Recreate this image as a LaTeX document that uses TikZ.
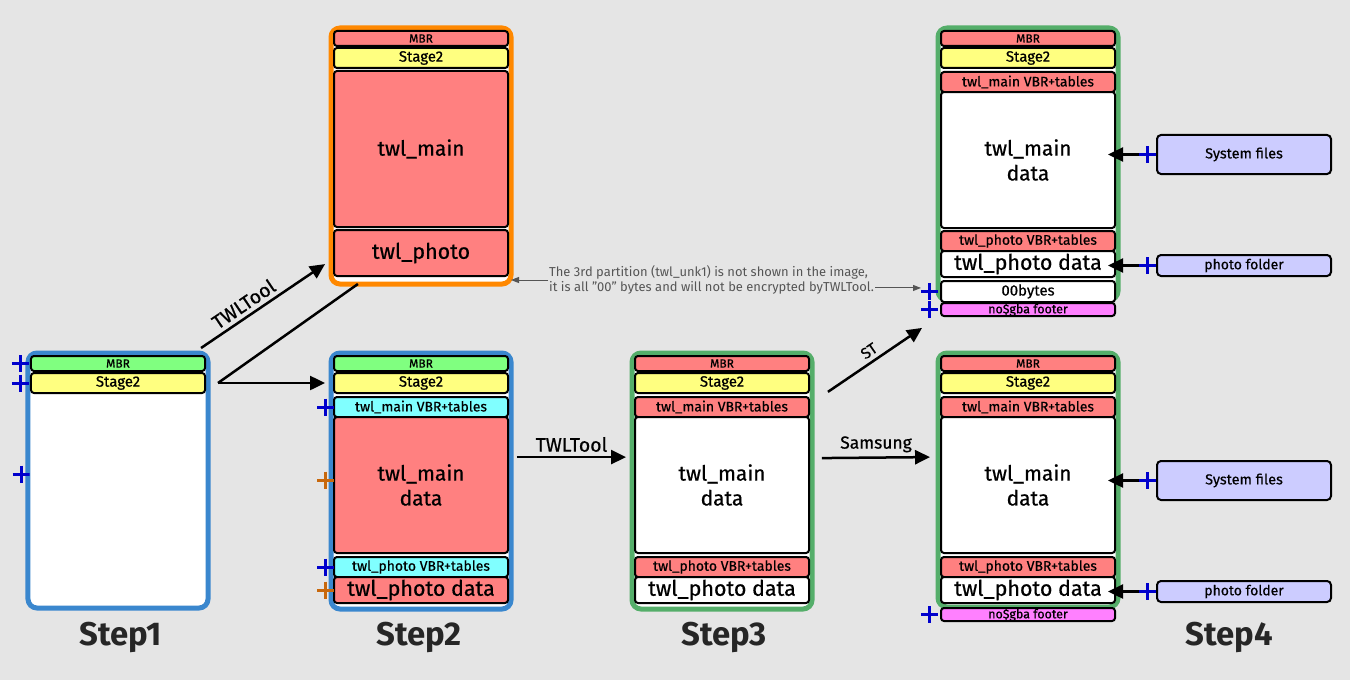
\documentclass[tikz,border=0pt]{standalone}
\usepackage{fontspec}
\setmainfont{Fira Sans}
\newfontfamily\medfont{Fira Sans}[FakeBold=0.6]
\usetikzlibrary{arrows.meta, positioning, calc}
\definecolor{twBg}{HTML}{E5E5E5}
\definecolor{twBlue}{HTML}{3A87CE}
\definecolor{twOrange}{HTML}{FF8800}
\definecolor{twGreenEdge}{HTML}{55AE6A}
\definecolor{twRed}{HTML}{FF8080}
\definecolor{twGreen}{HTML}{80FF80}
\definecolor{twYellow}{HTML}{FFFF80}
\definecolor{twCyan}{HTML}{80FFFF}
\definecolor{twPink}{HTML}{FF80FF}
\definecolor{twLav}{HTML}{CCCCFF}
\definecolor{twPlus}{HTML}{0000CC}
\definecolor{twBrown}{HTML}{C8680C}
\definecolor{twGray}{HTML}{555555}
\tikzset{
  disk/.style={line width=5bp, rounded corners=9bp, fill=white, minimum width=180bp,
    inner sep=0pt, outer sep=0pt, anchor=north},
  part/.style={draw, line width=2bp, rounded corners=3bp, minimum width=174bp,
    inner sep=0pt, outer sep=0pt, anchor=north, align=center},
  mbrbar/.style={part, minimum height=15bp, font=\medfont\fontsize{12}{13}\selectfont},
  stagebar/.style={part, fill=twYellow, minimum height=20bp, font=\medfont\fontsize{15}{17}\selectfont},
  vbrbar/.style={part, minimum height=20bp, font=\medfont\fontsize{14}{15}\selectfont},
  databar/.style={part, minimum height=136bp, font=\medfont\fontsize{21}{25}\selectfont},
  photobar/.style={part, minimum height=26bp, font=\medfont\fontsize{21.5}{23}\selectfont},
  zerobar/.style={part, fill=white, minimum height=21bp, font=\medfont\fontsize{15}{16}\selectfont},
  footbar/.style={part, fill=twPink, minimum height=13bp, font=\medfont\fontsize{12.5}{13}\selectfont},
  srcbox/.style={draw, line width=2bp, rounded corners=4bp, fill=twLav, minimum width=174bp,
    inner sep=0pt, outer sep=0pt},
  plusmark/.style={minimum size=17bp, inner sep=0pt, outer sep=0pt,
    path picture={\draw[line width=3bp, #1]
      (path picture bounding box.north) -- (path picture bounding box.south)
      (path picture bounding box.west) -- (path picture bounding box.east);}},
  plusb/.style={plusmark=twPlus},
  plusr/.style={plusmark=twBrown},
  flow/.style={-{Triangle[length=15bp, width=14bp]}, line width=2.5bp},
  noteflow/.style={-{Triangle[length=8bp, width=6bp]}, line width=1bp, twGray},
  tag/.style={font=\medfont\fontsize{19.5}{21}\selectfont, inner sep=1bp},
  tagthin/.style={font=\medfont\fontsize{17.5}{19}\selectfont, inner sep=1bp},
  note/.style={font=\fontsize{13}{15}\selectfont, text=twGray, align=left, inner sep=1bp},
  steplabel/.style={font=\bfseries\fontsize{33}{38}\selectfont, text=black!85}
}
\begin{document}
\begin{tikzpicture}[x=1bp, y=-1bp]
  \useasboundingbox[fill=twBg] (0,0) rectangle (1350,680);

  % Step1
  \node[disk, draw=twBlue, minimum height=255bp] (s1box) at (118,353) {};
  \node[mbrbar, fill=twGreen] (s1mbr) at (118,356) {MBR};
  \node[stagebar, below=2bp of s1mbr] (s1stage) {Stage2};
  \node[plusb, left=2bp of s1mbr] (p1a) {};
  \node[plusb, left=2bp of s1stage] (p1b) {};
  \node[plusb] (p1c) at (21,474) {};

  % Step2, TWLTool output
  \node[disk, draw=twOrange, minimum height=256bp] (s2top) at (421,28) {};
  \node[mbrbar, fill=twRed] (s2tmbr) at (421,31) {MBR};
  \node[stagebar, below=2bp of s2tmbr] (s2tstage) {Stage2};
  \node[databar, fill=twRed, minimum height=156bp, below=3bp of s2tstage] (s2tmain) {twl\_main};
  \node[photobar, fill=twRed, minimum height=46bp, below=3bp of s2tmain] (s2tphoto) {twl\_photo};

  % Step2, decrypted layout
  \node[disk, draw=twBlue, minimum height=256bp] (s2bbox) at (421,353) {};
  \node[mbrbar, fill=twGreen] (s2bmbr) at (421,356) {MBR};
  \node[stagebar, below=2bp of s2bmbr] (s2bstage) {Stage2};
  \node[vbrbar, fill=twCyan, below=4bp of s2bstage] (s2bvbr) {twl\_main VBR+tables};
  \node[databar, fill=twRed, below=0bp of s2bvbr] (s2bdata) {twl\_main\\data};
  \node[vbrbar, fill=twCyan, below=4bp of s2bdata] (s2bpvbr) {twl\_photo VBR+tables};
  \node[photobar, fill=twRed, below=0bp of s2bpvbr] (s2bpdata) {twl\_photo data};
  \node[plusb, left=0bp of s2bvbr] (p2a) {};
  \node[plusr, left=0bp of s2bdata, yshift=5pt] (p2b) {};
  \node[plusb, left=0bp of s2bpvbr] (p2c) {};
  \node[plusr, left=0bp of s2bpdata] (p2d) {};

  % Step3
  \node[disk, draw=twGreenEdge, minimum height=256bp] (s3box) at (722,353) {};
  \node[mbrbar, fill=twRed] (s3mbr) at (722,356) {MBR};
  \node[stagebar, below=2bp of s3mbr] (s3stage) {Stage2};
  \node[vbrbar, fill=twRed, below=4bp of s3stage] (s3vbr) {twl\_main VBR+tables};
  \node[databar, fill=white, below=0bp of s3vbr] (s3data) {twl\_main\\data};
  \node[vbrbar, fill=twRed, below=4bp of s3data] (s3pvbr) {twl\_photo VBR+tables};
  \node[photobar, fill=white, below=0bp of s3pvbr] (s3pdata) {twl\_photo data};

  % Step4, ST
  \node[disk, draw=twGreenEdge, minimum height=272bp] (s4top) at (1028,28) {};
  \node[mbrbar, fill=twRed] (s4tmbr) at (1028,31) {MBR};
  \node[stagebar, below=2bp of s4tmbr] (s4tstage) {Stage2};
  \node[vbrbar, fill=twRed, below=4bp of s4tstage] (s4tvbr) {twl\_main VBR+tables};
  \node[databar, fill=white, below=0bp of s4tvbr] (s4tdata) {twl\_main\\data};
  \node[vbrbar, fill=twRed, below=3bp of s4tdata] (s4tpvbr) {twl\_photo VBR+tables};
  \node[photobar, fill=white, below=0bp of s4tpvbr] (s4tpdata) {twl\_photo data};
  \node[zerobar, below=4bp of s4tpdata] (s4tzero) {00bytes};
  \node[footbar, below=1bp of s4tzero] (s4tfoot) {no\$gba footer};
  \node[plusb, left=3bp of s4tzero] (p4z) {};
  \node[plusb, left=3bp of s4tfoot] (p4f) {};

  % Step4, Samsung
  \node[disk, draw=twGreenEdge, minimum height=254bp] (s4bbox) at (1028,353) {};
  \node[mbrbar, fill=twRed] (s4bmbr) at (1028,356) {MBR};
  \node[stagebar, below=2bp of s4bmbr] (s4bstage) {Stage2};
  \node[vbrbar, fill=twRed, below=4bp of s4bstage] (s4bvbr) {twl\_main VBR+tables};
  \node[databar, fill=white, below=0bp of s4bvbr] (s4bdata) {twl\_main\\data};
  \node[vbrbar, fill=twRed, below=4bp of s4bdata] (s4bpvbr) {twl\_photo VBR+tables};
  \node[photobar, fill=white, below=0bp of s4bpvbr] (s4bpdata) {twl\_photo data};
  \node[footbar, below=5bp of s4bpdata] (s4bfoot) {no\$gba footer};
  \node[plusb, left=3bp of s4bfoot] (p4g) {};

  % injected files
  \node[srcbox, minimum height=39bp, font=\medfont\fontsize{14.5}{16}\selectfont] (sys1) at (1244,154.5) {System files};
  \node[srcbox, minimum height=21bp, font=\medfont\fontsize{14}{15}\selectfont] (pho1) at (1244,265.5) {photo folder};
  \node[srcbox, minimum height=39bp, font=\medfont\fontsize{14.5}{16}\selectfont] (sys2) at (1244,480.5) {System files};
  \node[srcbox, minimum height=21bp, font=\medfont\fontsize{14}{15}\selectfont] (pho2) at (1244,591.5) {photo folder};
  \node[plusb, left=1bp of sys1] (ps1) {};
  \node[plusb, left=1bp of pho1] (pp1) {};
  \node[plusb, left=1bp of sys2] (ps2) {};
  \node[plusb, left=1bp of pho2] (pp2) {};
  \draw[flow, shorten >=-7bp] (ps1.west) -- (ps1.west -| s4tdata.east);
  \draw[flow, shorten >=-7bp] (pp1.west) -- (pp1.west -| s4tpdata.east);
  \draw[flow, shorten >=-7bp] (ps2.west) -- (ps2.west -| s4bdata.east);
  \draw[flow, shorten >=-7bp] (pp2.west) -- (pp2.west -| s4bpdata.east);

  % step arrows
  \draw[flow] ([xshift=-7pt, yshift=5pt]s1box.north east) -- ([xshift=-6pt, yshift=20pt]s2top.south west)
    node[pos=0.4, above=3bp, sloped, tag] {TWLTool};
  \coordinate[right=13bp of s1stage] (split);
  \draw[flow, shorten >=6bp] (split) -- (split -| s2bbox.west);
  \draw[line width=2.5bp] (split) -- ([xshift=27pt]s2top.south west);
  \draw[flow] ([xshift=6pt, yshift=24pt]s2bbox.east) -- ([xshift=-6pt, yshift=24pt]s3box.west)
    node[midway, above=3bp, tag] {TWLTool};
  \draw[flow] ([xshift=16pt, yshift=-39pt]s3box.north east) -- ([xshift=-16pt, yshift=-28pt]s4top.south west)
    node[midway, above=3bp, sloped, tagthin, font=\medfont\fontsize{15.5}{17}\selectfont] {ST};
  \draw[flow] ([xshift=10pt, yshift=23pt]s3box.east) -- ([xshift=-8pt, yshift=23pt]s4bbox.west)
    node[midway, above=3bp, tagthin] {Samsung};

  % note on the third partition
  \node[note, anchor=west] (note) at (548,280)
    {The 3rd partition (twl\_unk1) is not shown in the image,\\it is all "00" bytes and will not be encrypted byTWLTool.};
  \draw[noteflow] (note.west) -- (note.west -| s2top.east);
  \draw[noteflow] ([yshift=-8pt]note.east) -- ([yshift=-8pt]note.east -| p4z.west);

  % step labels
  \node[steplabel] (l1) at (121,637) {Step1};
  \node[steplabel] (l2) at (419,637) {Step2};
  \node[steplabel] (l3) at (724,637) {Step3};
  \node[steplabel] (l4) at (1229,637) {Step4};
\end{tikzpicture}
\end{document}
